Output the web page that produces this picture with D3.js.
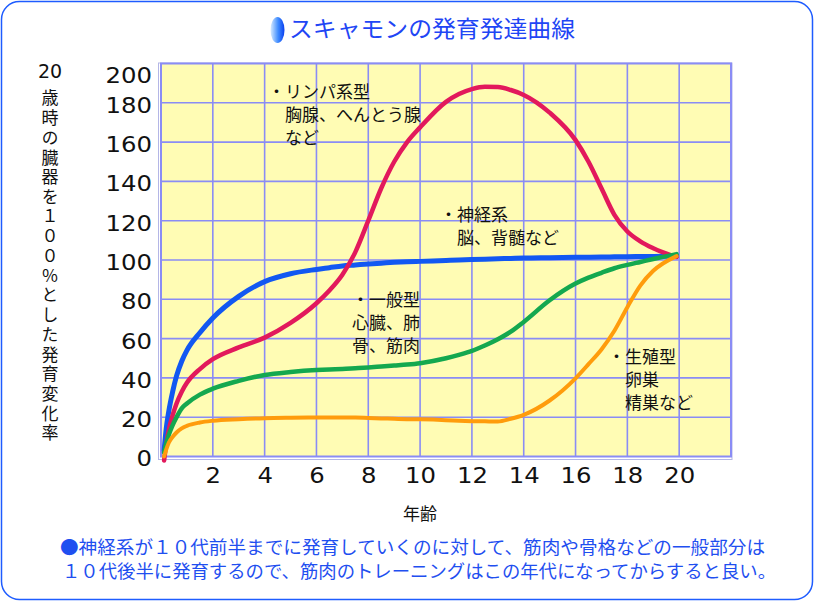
<!DOCTYPE html>
<html><head><meta charset="utf-8">
<script src="https://cdn.jsdelivr.net/npm/d3@7"></script>
<style>
html,body{margin:0;padding:0;background:#fff;}
svg{display:block;}
.jp{font-family:"Noto Sans CJK JP","Noto Sans",sans-serif;}
.num{font-family:"DejaVu Sans",sans-serif;}
.vert{writing-mode:vertical-rl;}
</style></head>
<body>
<svg id="chart" width="815" height="602"></svg>
<script>
// ---- data ----
const titleText = "スキャモンの発育発達曲線";
const xLabel = "年齢";
const yLabelTop = "20";
const yLabelRest = "歳時の臓器を１００％とした発育変化率";
const xTicks = [2,4,6,8,10,12,14,16,18,20];
const yTicks = [0,20,40,60,80,100,120,140,160,180,200];
const ages         = [0.12, 0.2, 0.3, 0.45, 0.6, 0.8, 1, 1.5, 2, 3, 4, 5, 6, 6.5, 7, 7.5, 8, 8.5, 9, 9.5, 10, 11, 11.5, 12, 12.5, 13, 13.5, 14, 15, 16, 16.5, 17, 17.5, 18, 18.5, 19, 19.9];
const neural       = [3, 14, 23, 33, 41, 48.5, 54, 63, 70.5, 81.5, 89, 93, 95.2, 96.1, 97, 97.5, 98, 98.4, 98.8, 99.1, 99.3, 99.8, 100, 100.2, 100.4, 100.6, 100.8, 101, 101.2, 101.4, 101.45, 101.5, 101.6, 101.7, 101.75, 101.8, 102];
const lymphoid     = [-2, 6, 13.5, 21, 27, 33, 37.5, 44.5, 49.5, 55.5, 60.5, 68, 78, 84.5, 92.5, 104, 120, 136.5, 150, 160, 167.5, 180.5, 184.5, 187, 188.2, 188, 186.5, 184, 175, 161, 150, 136.5, 123, 114.5, 109.5, 106, 101.5];
const general      = [2, 6.5, 11, 16, 20, 24.5, 27, 31.5, 34.5, 38.5, 41.5, 43, 44, 44.3, 44.5, 44.9, 45.3, 45.8, 46.3, 46.8, 47.5, 50, 51.7, 53.7, 56.5, 59.7, 63.5, 68.5, 79.5, 88, 91, 93.5, 95.8, 97.5, 99, 100.5, 103];
const reproductive = [0, 3.5, 7, 10, 12.2, 14.3, 15.6, 17.3, 18.2, 19, 19.5, 19.7, 19.8, 19.8, 19.8, 19.8, 19.6, 19.4, 19.2, 19, 18.9, 18.5, 18.2, 18, 17.9, 17.8, 19.2, 21.2, 28.5, 39.8, 47, 54.5, 64, 76, 87, 94.5, 102];
const seriesNames  = ["neural","lymphoid","general","reproductive"];
const seriesColors = ["#1258f2","#e2195c","#14a84f","#ff9c0c"];
const seriesWidths = [5, 4.5, 4.5, 4];
const annotations = [
  {lines:["・リンパ系型","　胸腺、へんとう腺","　など"]},
  {lines:["・神経系","　脳、背髄など"]},
  {lines:["・一般型","心臓、肺","骨、筋肉"]},
  {lines:["・生殖型","　卵巣","　精巣など"]}
];
const annotationAt = [[268,98],[440,221],[352,306],[608,363]];
const noteLine1 = "●神経系が１０代前半までに発育していくのに対して、筋肉や骨格などの一般部分は";
const noteLine2 = "１０代後半に発育するので、筋肉のトレーニングはこの年代になってからすると良い。";

// ---- drawing ----
const svg = d3.select("#chart");
const defs = svg.append("defs");
const grad = defs.append("linearGradient").attr("id","pill").attr("x1","0").attr("x2","1").attr("y1","0").attr("y2","0");
grad.append("stop").attr("offset","0%").attr("stop-color","#d8ecff");
grad.append("stop").attr("offset","55%").attr("stop-color","#3f8cff");
grad.append("stop").attr("offset","100%").attr("stop-color","#0a3ff0");

// outer border
svg.append("rect").attr("x",1.5).attr("y",1.5).attr("width",811).attr("height",598)
  .attr("rx",18).attr("fill","#fff").attr("stroke","#1e5cff").attr("stroke-width",1.5);

// title
svg.append("ellipse").attr("cx",277.5).attr("cy",30).attr("rx",7).attr("ry",13).attr("fill","url(#pill)");
svg.append("text").attr("class","jp").attr("x",289).attr("y",37)
  .attr("font-size",23).attr("fill","#1f46f5").attr("textLength",286).attr("lengthAdjust","spacingAndGlyphs")
  .text(titleText);

const x = d3.scaleLinear().domain([0,22]).range([161,731]);
const y = d3.scaleLinear().domain([0,200]).range([456.5,63.5]);

// plot background
svg.append("rect").attr("x",x(0)).attr("y",y(200)).attr("width",x(22)-x(0)).attr("height",y(0)-y(200))
  .attr("fill","#fffcb4");

// grid
const gridColor = "#8a8cf5";
svg.append("g").selectAll("line").data(yTicks.slice(1,-1)).join("line")
  .attr("x1",x(0)).attr("x2",x(22)).attr("y1",d=>y(d)).attr("y2",d=>y(d))
  .attr("stroke",gridColor).attr("stroke-width",1.6);
svg.append("g").selectAll("line").data(xTicks).join("line")
  .attr("x1",d=>x(d)).attr("x2",d=>x(d)).attr("y1",y(200)).attr("y2",y(0))
  .attr("stroke",gridColor).attr("stroke-width",1.6);
// frame (double)
svg.append("rect").attr("x",x(0)-2.5).attr("y",y(200)-0.5).attr("width",x(22)-x(0)+3.5).attr("height",y(0)-y(200)+3.5)
  .attr("fill","none").attr("stroke","#b4b6e6").attr("stroke-width",1);
svg.append("rect").attr("x",x(0)).attr("y",y(200)).attr("width",x(22)-x(0)).attr("height",y(0)-y(200))
  .attr("fill","none").attr("stroke",gridColor).attr("stroke-width",2);

// axes
const yAxis = svg.append("g").attr("transform",`translate(${x(0)},0)`)
  .call(d3.axisLeft(y).tickValues(yTicks).tickSize(0).tickPadding(9));
yAxis.select(".domain").remove();
yAxis.selectAll("text").attr("class","num").attr("font-size",21).attr("fill","#111")
  .attr("dy",d=> d===200 ? "0.9em" : "0.45em")
  .attr("textLength",d=>String(d).length*15.5).attr("lengthAdjust","spacingAndGlyphs");

const xAxis = svg.append("g").attr("transform",`translate(0,${y(0)})`)
  .call(d3.axisBottom(x).tickValues(xTicks).tickSize(0).tickPadding(12));
xAxis.select(".domain").remove();
xAxis.selectAll("text").attr("class","num").attr("font-size",21).attr("fill","#111")
  .attr("textLength",d=>String(d).length*15.5).attr("lengthAdjust","spacingAndGlyphs");

// axis titles
svg.append("text").attr("class","jp").attr("x",420).attr("y",520).attr("text-anchor","middle")
  .attr("font-size",17).attr("fill","#111").text(xLabel);
svg.append("text").attr("class","num").attr("x",50).attr("y",78).attr("text-anchor","middle")
  .attr("font-size",19).attr("fill","#111").text(yLabelTop);
svg.append("text").attr("class","jp vert").attr("x",50).attr("y",89.5)
  .attr("font-size",17).attr("letter-spacing","2.7px").attr("fill","#111").text(yLabelRest);

// curves
const seriesData = [neural, lymphoid, general, reproductive];
const line = d3.line().x(d=>x(d[0])).y(d=>y(d[1])).curve(d3.curveMonotoneX);
svg.append("g").selectAll("path").data(seriesNames).join("path")
  .attr("d",(n,i)=>line(ages.map((a,k)=>[a,seriesData[i][k]])))
  .attr("fill","none").attr("stroke",(n,i)=>seriesColors[i]).attr("stroke-width",(n,i)=>seriesWidths[i])
  .attr("stroke-linecap","round").attr("stroke-linejoin","round");

// annotations
annotations.forEach((a,i)=>{
  const t = svg.append("text").attr("class","jp").attr("font-size",17).attr("fill","#111");
  a.lines.forEach((l,j)=>{
    t.append("tspan").attr("x",annotationAt[i][0]).attr("y",annotationAt[i][1]+j*23).text(l);
  });
});

// bottom note
svg.append("text").attr("class","jp").attr("x",60).attr("y",554).attr("font-size",18).attr("fill","#1f4ff0")
  .attr("textLength",705).attr("lengthAdjust","spacingAndGlyphs").text(noteLine1);
svg.append("text").attr("class","jp").attr("x",62).attr("y",578).attr("font-size",18).attr("fill","#1f4ff0")
  .attr("textLength",714).attr("lengthAdjust","spacingAndGlyphs").text(noteLine2);
</script>
</body></html>
